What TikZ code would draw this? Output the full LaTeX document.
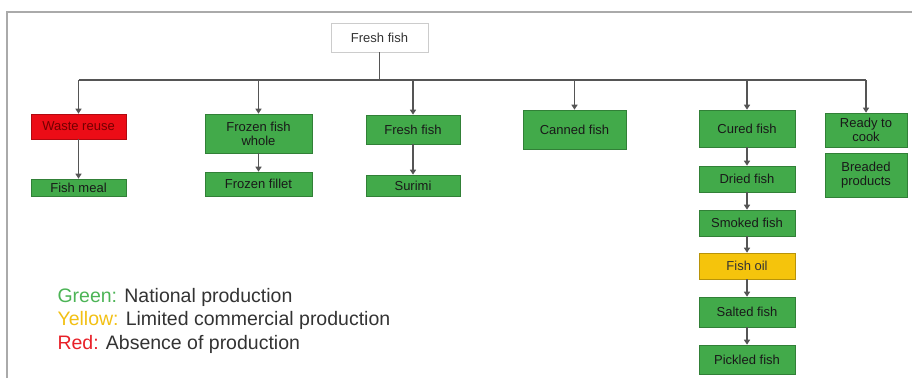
\documentclass[tikz,border=0pt]{standalone}
\usepackage{fontspec}
\setmainfont{Liberation Sans}
\usetikzlibrary{arrows.meta}

% Colours of the chart
\definecolor{boxgreen}{RGB}{66,170,74}
\definecolor{boxred}{RGB}{236,12,22}
\definecolor{boxyellow}{RGB}{245,196,12}
\definecolor{linegray}{RGB}{85,85,85}
\definecolor{framegray}{RGB}{170,170,170}
\definecolor{txtgreen}{RGB}{76,180,86}
\definecolor{txtyellow}{RGB}{242,192,20}
\definecolor{txtred}{RGB}{232,32,40}

\tikzset{
  prod/.style={draw=#1!75!black, fill=#1, line width=0.6pt, inner sep=1pt,
    align=center, font=\fontsize{13}{14}\selectfont, text=black!90},
  prod/.default=boxgreen,
  link/.style={draw=linegray, line width=1.6pt},
  arrow/.style={draw=linegray, line width=1.3pt, -{Triangle[length=5pt,width=6pt]}},
  legend/.style={anchor=west, font=\fontsize{19.5}{20}\selectfont, text=black!80}
}

\begin{document}
\begin{tikzpicture}[x=1pt, y=-1pt]

% Page size
\useasboundingbox (0,0) rectangle (912,378);

% Frame lines (open to the right and bottom)
\draw[framegray, line width=2pt] (7,378) -- (7,12) -- (912,12);

% Root node
\node[draw=black!20, fill=white, line width=0.8pt, minimum width=97pt, minimum height=29pt,
  font=\fontsize{13}{14}\selectfont, text=black!80] (root) at (379.5,37.5) {Fresh fish};

% First row of products
\node[prod=boxred, text=red!45!black, minimum width=95pt, minimum height=25pt] (waste) at (78.5,126.5) {Waste reuse};
\node[prod, minimum width=107pt, minimum height=39pt] (frozen) at (258.5,133.5) {Frozen fish\\whole};
\node[prod, minimum width=94pt, minimum height=29pt] (freshg) at (413,129.5) {Fresh fish};
\node[prod, minimum width=103pt, minimum height=39pt] (canned) at (574.5,129.5) {Canned fish};
\node[prod, minimum width=96pt, minimum height=37pt] (cured) at (747,128.5) {Cured fish};
\node[prod, minimum width=82pt, minimum height=34pt] (ready) at (866,130) {Ready to\\cook};

% Second row
\node[prod, minimum width=95pt, minimum height=17pt] (meal) at (78.5,187.5) {Fish meal};
\node[prod, minimum width=107pt, minimum height=24pt] (fillet) at (258.5,184) {Frozen fillet};
\node[prod, minimum width=94pt, minimum height=21pt] (surimi) at (413,185.5) {Surimi};
\node[prod, minimum width=82pt, minimum height=44pt] (breaded) at (866,175) {Breaded\\products};

% Cured fish chain
\node[prod, minimum width=96pt, minimum height=26pt] (dried) at (747,179) {Dried fish};
\node[prod, minimum width=96pt, minimum height=26pt] (smoked) at (747,223) {Smoked fish};
\node[prod=boxyellow, text=black!80, minimum width=96pt, minimum height=26pt] (oil) at (747,266) {Fish oil};
\node[prod, minimum width=96pt, minimum height=30pt] (salted) at (747,312) {Salted fish};
\node[prod, minimum width=96pt, minimum height=29pt] (pickled) at (747,359.5) {Pickled fish};

% Bus line under the root
\coordinate (bus) at (0,80);
\draw[link] (root.south) -- (bus -| root.south);
\draw[link] (bus -| waste.north) -- (bus -| ready.north);

% Drops from the bus
\foreach \n in {waste,frozen,freshg,canned,cured,ready}
  \draw[arrow] (bus -| \n.north) -- (\n.north);

% Arrows inside the columns
\draw[arrow] (waste) -- (meal);
\draw[arrow] (frozen) -- (fillet);
\draw[arrow] (freshg) -- (surimi);
\draw[arrow] (cured) -- (dried);
\draw[arrow] (dried) -- (smoked);
\draw[arrow] (smoked) -- (oil);
\draw[arrow] (oil) -- (salted);
\draw[arrow] (salted) -- (pickled);

% Legend
\node[legend] (lgreen) at (54,297) {\textcolor{txtgreen}{Green:} National production};
\node[legend] (lyellow) at (54,320) {\textcolor{txtyellow}{Yellow:} Limited commercial production};
\node[legend] (lred) at (54,344) {\textcolor{txtred}{Red:} Absence of production};

\end{tikzpicture}
\end{document}
